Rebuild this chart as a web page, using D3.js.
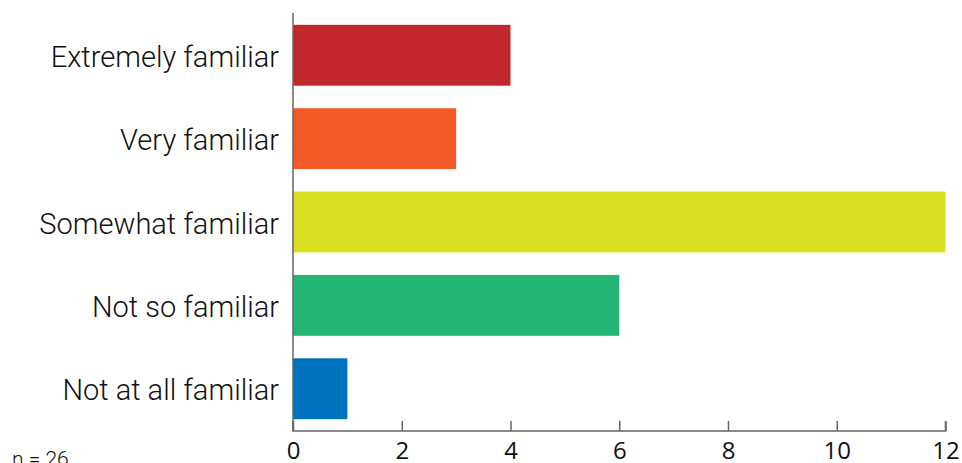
<!DOCTYPE html>
<html><head><meta charset="utf-8">
<script src="https://cdn.jsdelivr.net/npm/d3@7"></script>
<style>body{margin:0;background:#fff}svg{display:block}</style>
</head><body>
<script>
const categories = ["Extremely familiar","Very familiar","Somewhat familiar","Not so familiar","Not at all familiar"];
const values = [4, 3, 12, 6, 1];
const colors = ["#C1272D","#F15A24","#D9E021","#22B573","#0071BC"];
const xTicks = [0,2,4,6,8,10,12];
const note = "n = 26";

const W = 962, H = 463;
const svg = d3.select("body").append("svg").attr("width", W).attr("height", H);

const x = d3.scaleLinear().domain([0, 12]).range([293, 945.5]);
const y = d3.scaleBand().domain(categories).range([14, 430]).paddingInner(0.27).paddingOuter(0.13);

svg.selectAll("rect.bar").data(categories).join("rect")
  .attr("class","bar")
  .attr("x", x(0))
  .attr("y", d => y(d))
  .attr("width", (d,i) => x(values[i]) - x(0))
  .attr("height", y.bandwidth())
  .attr("fill", (d,i) => colors[i]);

// x axis
const xa = svg.append("g").attr("transform","translate(0,431)")
  .call(d3.axisBottom(x).tickValues(xTicks).tickSize(-10).tickPadding(0).tickFormat(d3.format("d")));
xa.select(".domain").attr("stroke","#666").attr("stroke-width",1.5).attr("d", `M${x(0)},-10V0H${x(12)}V-10`);
xa.selectAll(".tick line").attr("stroke","#666").attr("stroke-width",1.5);
xa.selectAll(".tick text").attr("fill","#111").attr("font-family","'Open Sans', sans-serif")
  .attr("font-size", 24).attr("y", 28).attr("dy", 0);

// y axis line
svg.append("line").attr("x1", x(0)).attr("x2", x(0)).attr("y1", 13).attr("y2", 431)
  .attr("stroke","#666").attr("stroke-width",1.5);

// category labels
svg.selectAll("text.cat").data(categories).join("text")
  .attr("class","cat")
  .attr("x", 279)
  .attr("y", d => y(d) + y.bandwidth()/2)
  .attr("dy", "0.4em")
  .attr("text-anchor","end")
  .attr("font-family","Roboto, sans-serif")
  .attr("font-weight",300)
  .attr("font-size", 29)
  .attr("fill","#111")
  .text(d => d);

svg.append("text").attr("x", 12).attr("y", 466)
  .attr("font-family","Roboto, sans-serif").attr("font-weight",300)
  .attr("font-size", 21).attr("fill","#111").text(note);
</script>
</body></html>
